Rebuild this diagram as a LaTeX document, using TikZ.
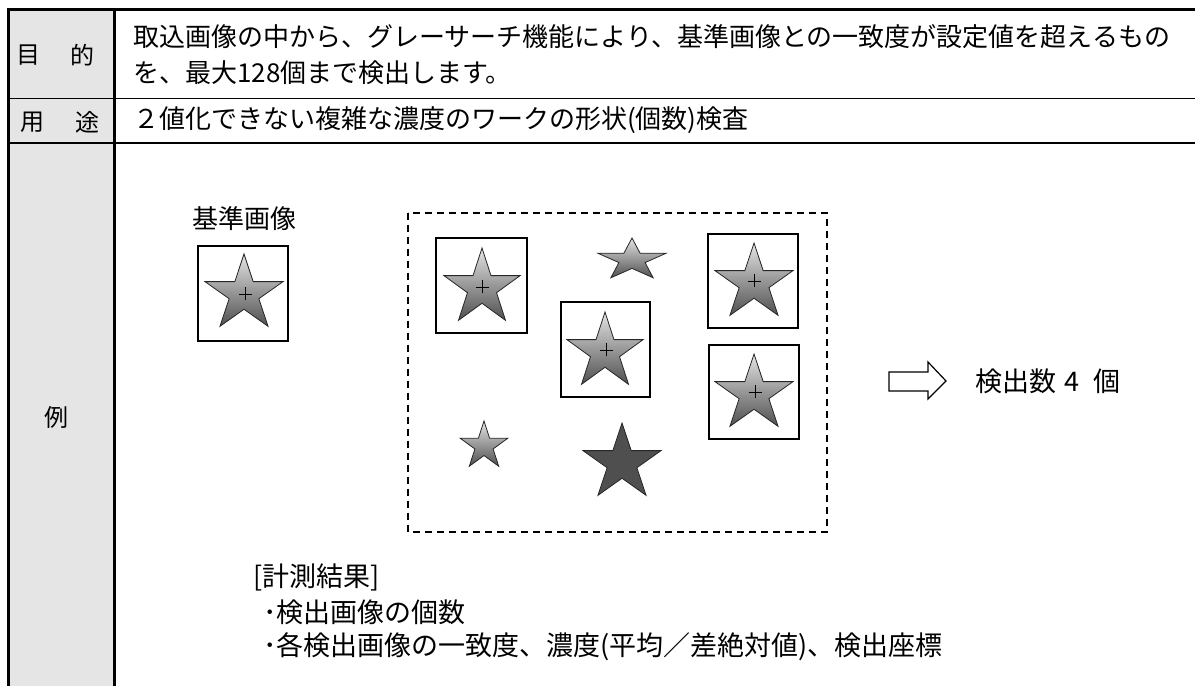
\documentclass[tikz,border=0pt]{standalone}
\usepackage{fontspec}
\setmainfont{Noto Sans CJK JP}
\usetikzlibrary{calc}
\definecolor{hdr}{HTML}{E5E5E5}
\definecolor{stTop}{HTML}{E4E4E4}
\definecolor{stBot}{HTML}{505050}
\definecolor{stDark}{HTML}{4F4F4F}
\newcommand{\gstar}[5]{%
  \path[#5] ($(#1,#2)+(90:#3 and #4)$)
    -- ($(#1,#2)+(126:{0.382*#3} and {0.382*#4})$)
    -- ($(#1,#2)+(162:#3 and #4)$)
    -- ($(#1,#2)+(198:{0.382*#3} and {0.382*#4})$)
    -- ($(#1,#2)+(234:#3 and #4)$)
    -- ($(#1,#2)+(270:{0.382*#3} and {0.382*#4})$)
    -- ($(#1,#2)+(306:#3 and #4)$)
    -- ($(#1,#2)+(342:{0.382*#3} and {0.382*#4})$)
    -- ($(#1,#2)+(18:#3 and #4)$)
    -- ($(#1,#2)+(54:{0.382*#3} and {0.382*#4})$)
    -- cycle;}
\newcommand{\gcross}[2]{\draw[line width=0.9pt] (#1-6.5,#2) -- (#1+6.5,#2) (#1,#2-6.5) -- (#1,#2+6.5);}
\begin{document}
\begin{tikzpicture}[x=1pt,y=1pt,
  thickline/.style={line width=3pt},
  rowline/.style={line width=1.6pt},
  boxst/.style={draw, line width=1.2pt},
  gradstar/.style={draw=black!85, line width=0.8pt, line join=miter, top color=stTop, bottom color=stBot},
  darkstar/.style={draw=black!85, line width=0.8pt, line join=miter, fill=stDark},
  txt/.style={inner sep=0pt, font=\fontsize{26}{30}\selectfont},
  lbl/.style={inner sep=0pt, font=\fontsize{24}{28}\selectfont},
  small/.style={inner sep=0pt, font=\fontsize{27}{30}\selectfont},
  arrowshape/.style={draw, line width=1.2pt, fill=white, line join=miter}]
\useasboundingbox (0,0) rectangle (1195,686);
% table
\fill[hdr] (8.7,0) rectangle (114.5,676);
\draw[rowline] (8,587.5) -- (1195,587.5);
\draw[rowline] (8,543) -- (1195,543);
\draw[thickline] (7.2,676) -- (1195,676);
\draw[thickline] (8.7,677.5) -- (8.7,0);
\draw[thickline] (114.5,676) -- (114.5,0);
% labels
\node[lbl] (l1a) at (28.5,631) {目};
\node[lbl] (l1b) at (82,631) {的};
\node[lbl] (l2a) at (32.5,563.5) {用};
\node[lbl] (l2b) at (87.5,563.5) {途};
\node[lbl] (l3) at (56,269) {例};
% row texts
\node[txt, anchor=west] (p1) at (133,649.5) {取込画像の中から、グレーサーチ機能により、基準画像との一致度が設定値を超えるもの};
\node[txt, anchor=west] (p2) at (133,613) {を、最大128個まで検出します。};
\node[txt, anchor=west] (u1) at (133,566) {２値化できない複雑な濃度のワークの形状(個数)検査};
% reference image
\node[txt] (reflbl) at (244,467) {基準画像};
\draw[boxst] (198,440) rectangle (288,345);
\gstar{244}{392}{41}{40}{gradstar}
\gcross{245}{392}
% search area
\draw[line width=1.3pt, dash pattern=on 7pt off 5pt] (408,473) rectangle (827,154);
\draw[boxst] (436,448) rectangle (527,353);
\gstar{482}{398}{40}{40}{gradstar}
\gcross{482}{399}
\gstar{632}{426}{36}{22}{gradstar}
\draw[boxst] (708,452) rectangle (798,358);
\gstar{754}{403}{41}{40}{gradstar}
\gcross{754}{405}
\draw[boxst] (561,384) rectangle (650,289);
\gstar{605}{334}{40}{40}{gradstar}
\gcross{606}{336}
\draw[boxst] (709,341) rectangle (799,247);
\gstar{754}{292}{41}{40}{gradstar}
\gcross{755}{294}
\gstar{484}{240}{25}{25}{gradstar}
\gstar{622}{223}{41}{40}{darkstar}
% arrow and result
\draw[arrowshape] (889,314) -- (928,314) -- (928,324) -- (946,305) -- (928,287) -- (928,295) -- (889,295) -- cycle;
\node[txt, anchor=west, font=\fontsize{27}{30}\selectfont] (res) at (975,305) {検出数\hspace{8pt}4\hspace{14pt}個};
% measurement results
\node[small, anchor=west] (m0) at (253,109) {[計測結果]};
\node[small, anchor=west] (m1) at (263,74) {･検出画像の個数};
\node[small, anchor=west] (m2) at (263,39) {･各検出画像の一致度、濃度(平均／差絶対値)、検出座標};
\end{tikzpicture}
\end{document}
